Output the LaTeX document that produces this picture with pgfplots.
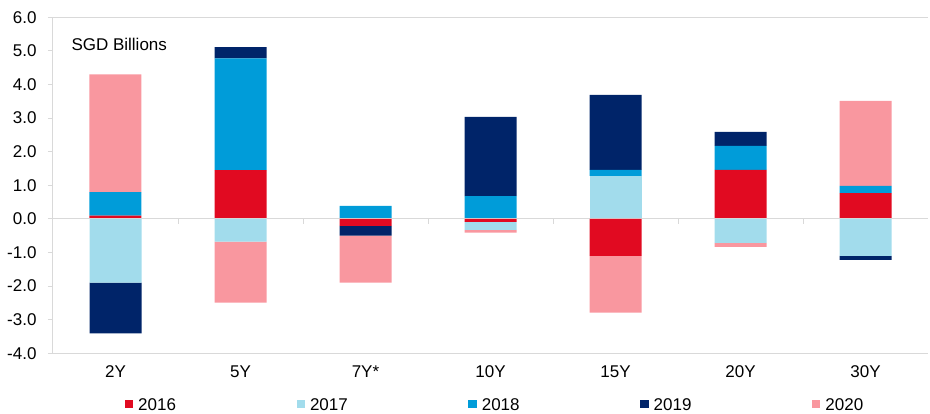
\documentclass[border=0pt]{standalone}
\usepackage{fontspec}
\setmainfont{Liberation Sans}
\usepackage{pgfplots}
\usepackage{pgfplotstable}
\pgfplotsset{compat=1.18}

\definecolor{c16}{HTML}{E10A21}
\definecolor{c17}{HTML}{A2DCEC}
\definecolor{c18}{HTML}{009CD9}
\definecolor{c19}{HTML}{002469}
\definecolor{c20}{HTML}{F9979F}
\definecolor{axgray}{HTML}{D9D9D9}

% positive parts, stacked upwards
\pgfplotstableread{
x  y16   y17   y18   y19   y20
0  0.10  0     0.70  0     3.50
1  1.45  0     3.33  0.33  0
2  0     0     0.39  0     0
3  0     0     0.68  2.36  0
4  0     1.28  0.18  2.23  0
5  1.46  0     0.71  0.42  0
6  0.77  0     0.21  0     2.53
}\pos

% negative parts, stacked downwards
\pgfplotstableread{
x  y16    y17    y18  y19    y20
0  0      -1.90  0    -1.51  0
1  0      -0.68  0    0      -1.81
2  -0.21  0      0    -0.29  -1.40
3  -0.09  -0.24  0    0      -0.08
4  -1.10  0      0    0      -1.69
5  0      -0.71  0    0      -0.12
6  0      -1.10  0    -0.12  0
}\neg

\newcommand{\lbl}{\fontsize{17}{20}\selectfont}

\pgfplotsset{
  common/.style={
    scale only axis, width=875pt, height=336pt,
    xmin=-0.5, xmax=6.5, ymin=-4, ymax=6,
    ybar stacked, bar width=52pt,
  },
}

\begin{document}
\begin{tikzpicture}
\begin{axis}[common, name=main,
    axis x line*=box, axis y line*=left,
    axis line style={draw=axgray, line width=1pt},
    xtick={0,...,6},
    xticklabels={2Y,5Y,7Y*,10Y,15Y,20Y,30Y},
    x tick style={draw=none},
    ytick={-4,-3,...,6},
    y tick style={draw=axgray, line width=1pt},
    tick align=outside, major tick length=5pt,
    /pgf/number format/assume math mode=true,
    yticklabel style={/pgf/number format/fixed, /pgf/number format/fixed zerofill,
      /pgf/number format/precision=1, xshift=-8pt},
    ticklabel style={font=\lbl},
    xticklabel style={yshift=-4pt},
    legend columns=5,
    legend style={draw=none, font=\lbl, at={(0.5,0)}, anchor=center,
      yshift=-52pt, xshift=3.5pt,
      /tikz/every odd column/.append style={column sep=5pt},
      /tikz/every even column/.append style={column sep=120.5pt},
      nodes={inner xsep=0pt}},
    legend image code/.code={\fill[#1] (0pt,-3pt) rectangle (8.5pt,5.5pt);},
]
\addplot[fill=c16, draw=none] table[x=x, y=y16] {\pos};
\addplot[fill=c17, draw=none] table[x=x, y=y17] {\pos};
\addplot[fill=c18, draw=none] table[x=x, y=y18] {\pos};
\addplot[fill=c19, draw=none] table[x=x, y=y19] {\pos};
\addplot[fill=c20, draw=none] table[x=x, y=y20] {\pos};
\legend{2016,2017,2018,2019,2020}
\node[anchor=west, font=\lbl] at (axis cs:-0.5,5.2) [xshift=15pt] {SGD Billions};
\end{axis}
\begin{axis}[common, hide axis]
\addplot[fill=c16, draw=none] table[x=x, y=y16] {\neg};
\addplot[fill=c17, draw=none] table[x=x, y=y17] {\neg};
\addplot[fill=c18, draw=none] table[x=x, y=y18] {\neg};
\addplot[fill=c19, draw=none] table[x=x, y=y19] {\neg};
\addplot[fill=c20, draw=none] table[x=x, y=y20] {\neg};
\draw[axgray, line width=1pt] (axis cs:-0.5,0) -- (axis cs:6.5,0);
\pgfplotsinvokeforeach{0.5,1.5,2.5,3.5,4.5,5.5}{
  \draw[axgray, line width=1pt] (axis cs:#1,0) -- ([yshift=-5pt]axis cs:#1,0);
}
\end{axis}
\pgfresetboundingbox
\path (main.south west) ++(-53pt,-60.7pt) rectangle ++(930pt,414pt);
\end{tikzpicture}
\end{document}
